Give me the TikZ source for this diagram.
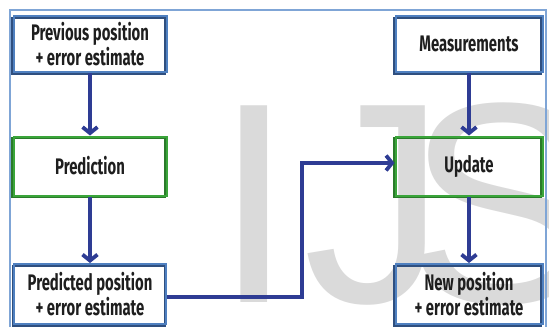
\documentclass[tikz,border=0pt]{standalone}
\usepackage{fontspec}
\usetikzlibrary{arrows.meta}
\newfontfamily\boxfont{Fira Sans}[FakeStretch=0.66]
\newfontfamily\wmfont{Liberation Sans}
\definecolor{boxblue}{HTML}{4F80C0}
\definecolor{boxshade}{HTML}{2F4F7F}
\definecolor{boxgreen}{HTML}{3AA53A}
\definecolor{greenshade}{HTML}{2A7A2A}
\definecolor{navy}{HTML}{2E3C94}
\definecolor{framecol}{HTML}{7FA5D6}
\definecolor{wmgray}{HTML}{DADADA}
\definecolor{textcol}{HTML}{1E1E1E}
\tikzset{
  box/.style={rectangle, line width=2pt, align=center, text=textcol,
    font=\boxfont\bfseries\fontsize{22.5}{25}\selectfont, inner sep=0pt},
  bluebox/.style={box, draw=boxblue,
    preaction={draw=boxshade, line width=2pt, transform canvas={shift={(-1.4pt,-1.8pt)}}}},
  greenbox/.style={box, draw=boxgreen,
    preaction={draw=greenshade, line width=2pt, transform canvas={shift={(-1.4pt,-1.8pt)}}}},
  flow/.style={draw=navy, line width=3.8pt,
    -{Straight Barb[length=6pt,width=15pt,line width=3.8pt]}},
  wm/.style={text=wmgray, font=\wmfont\fontsize{286}{286}\selectfont, inner sep=0pt, anchor=base west},
  frame/.style={draw=framecol, line width=2.2pt}
}
\begin{document}
\begin{tikzpicture}[x=1pt, y=-1pt]
\useasboundingbox (0,0) rectangle (549,327);
% watermark
\node[wm] (wmI) at (214,302) {I};
\node[wm] (wmJ) at (303,302) {J};
\node[wm] (wmS) at (406,302) {S};
% frame
\draw[frame] (10,327) -- (10,10) -- (546,10) -- (546,327);
% boxes
\node[bluebox, minimum width=153pt, minimum height=56pt] (prev) at (90,44) {Previous position\\+ error estimate};
\node[greenbox, minimum width=153pt, minimum height=59pt] (pred) at (90,166) {Prediction};
\node[bluebox, minimum width=152pt, minimum height=60pt] (predpos) at (90,294) {Predicted position\\+ error estimate};
\node[bluebox, minimum width=147pt, minimum height=56pt] (meas) at (469,44) {Measurements};
\node[greenbox, minimum width=147pt, minimum height=59pt] (upd) at (469,166) {Update};
\node[bluebox, minimum width=147pt, minimum height=60pt] (newpos) at (469,294) {New position\\+ error estimate};
% connectors
\draw[flow] (prev) -- (pred);
\draw[flow] (pred) -- (predpos);
\draw[flow] (meas) -- (upd);
\draw[flow] (upd) -- (newpos);
\coordinate (bend) at (302,297);
\draw[flow] ([yshift=-3pt]predpos.east) -- (bend) |- ([yshift=3pt]upd.west);
\end{tikzpicture}
\end{document}
